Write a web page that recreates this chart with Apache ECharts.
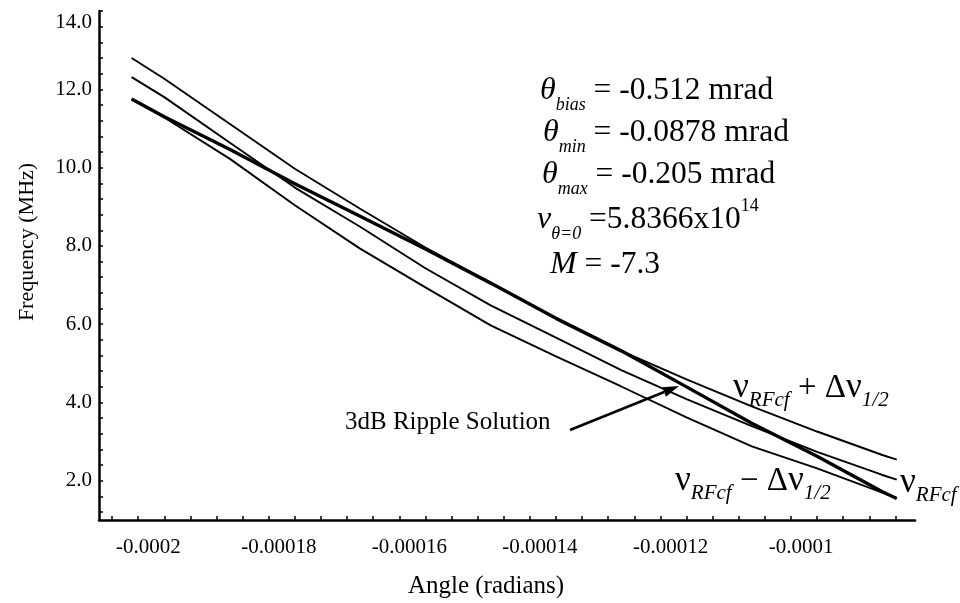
<!DOCTYPE html>
<html><head><meta charset="utf-8">
<script src="https://cdn.jsdelivr.net/npm/echarts@6/dist/echarts.min.js"></script>
<style>html,body{margin:0;padding:0;background:#fff}#c{width:960px;height:603px}</style>
</head><body><div id="c"></div>
<script>
// ---- data ----
const angles      = [-0.000205, -0.0002, -0.00019, -0.00018, -0.00017, -0.00016, -0.00015, -0.00014, -0.00013, -0.00012, -0.00011, -0.0001, -0.00009, -0.0000878];
const upperFreq   = [12.80, 12.27, 11.12, 9.97, 8.95, 7.96, 7.05, 6.15, 5.32, 4.59, 3.90, 3.26, 2.66, 2.54];
const centerFreq  = [12.31, 11.80, 10.64, 9.49, 8.49, 7.43, 6.48, 5.66, 4.83, 4.09, 3.40, 2.74, 2.15, 2.03];
const lowerFreq   = [11.75, 11.28, 10.23, 9.04, 7.93, 6.94, 5.97, 5.18, 4.41, 3.62, 2.88, 2.32, 1.70, 1.56];
const rippleFreq  = [11.75, 11.30, 10.47, 9.59, 8.76, 7.92, 7.05, 6.15, 5.32, 4.40, 3.47, 2.63, 1.72, 1.55];
const xTickLabels = [-0.0002, -0.00018, -0.00016, -0.00014, -0.00012, -0.0001];
const yTickLabels = [2, 4, 6, 8, 10, 12, 14];

const FONT = 'Liberation Serif';
const xMinor = []; for (let i = 0; i <= 30; i++) xMinor.push(-0.000208 + i * 0.000004);
const yMinor = []; for (let i = 0; i <= 32; i++) yMinor.push(+(1.2 + i * 0.4).toFixed(1));

const chart = echarts.init(document.getElementById('c'), null, {renderer: 'canvas'});

function pair(ys) { return angles.map((a, i) => [a, ys[i]]); }
function line(name, ys, w) {
  return {name, type: 'line', data: pair(ys), showSymbol: false, symbol: 'none', smooth: false,
    lineStyle: {color: '#000', width: w}, z: w > 2 ? 3 : 2, animation: false};
}

const rich = {
  g:   {fontFamily: FONT, fontStyle: 'italic', fontSize: 32, lineHeight: 46, color: '#000'},
  s:   {fontFamily: FONT, fontStyle: 'italic', fontSize: 18, verticalAlign: 'bottom', color: '#000'},
  n:   {fontFamily: FONT, fontSize: 31.5, color: '#000'},
  sup: {fontFamily: FONT, fontSize: 18, verticalAlign: 'top', color: '#000'},
  nu:  {fontFamily: FONT, fontSize: 35, lineHeight: 46, color: '#000'},
  ls:  {fontFamily: FONT, fontStyle: 'italic', fontSize: 21, verticalAlign: 'bottom', color: '#000'},
  ln:  {fontFamily: FONT, fontSize: 33, color: '#000'}
};

function txt(x, y, text) {
  return {type: 'text', x, y, silent: true,
    style: {text, rich, align: 'left', verticalAlign: 'middle', fill: '#000'}};
}

// arrow annotation
const a0 = [570, 430], a1 = [679, 386];
const dx = a1[0] - a0[0], dy = a1[1] - a0[1], L = Math.hypot(dx, dy);
const ux = dx / L, uy = dy / L, px = -uy, py = ux;
const hb = [a1[0] - 16 * ux, a1[1] - 16 * uy];

chart.setOption({
  animation: false,
  backgroundColor: '#fff',
  grid: {left: 99, top: 11, right: 45, bottom: 83, containLabel: false},
  xAxis: {
    type: 'value', min: -0.00021, max: -0.000085,
    axisLine: {show: true, onZero: false, lineStyle: {color: '#000', width: 2.5}},
    axisTick: {show: true, inside: true, length: 4, customValues: xMinor, lineStyle: {color: '#000', width: 1.5}},
    axisLabel: {customValues: xTickLabels, formatter: v => String(v), fontFamily: FONT, fontSize: 21, color: '#000', margin: 17, padding: [0, 32, 0, 0]},
    splitLine: {show: false}
  },
  yAxis: {
    type: 'value', min: 1, max: 14,
    axisLine: {show: true, onZero: false, lineStyle: {color: '#000', width: 2.5}},
    axisTick: {show: true, inside: true, length: 4, customValues: yMinor, lineStyle: {color: '#000', width: 1.5}},
    axisLabel: {customValues: yTickLabels, margin: 7,
      formatter: v => v === 14 ? '{top|14.0}' : v.toFixed(1),
      fontFamily: FONT, fontSize: 21, color: '#000',
      rich: {top: {fontFamily: FONT, fontSize: 21, color: '#000', padding: [22, 0, 0, 0]}}},
    splitLine: {show: false}
  },
  series: [
    line('upper', upperFreq, 1.9),
    line('center', centerFreq, 1.9),
    line('lower', lowerFreq, 1.9),
    line('ripple', rippleFreq, 3.4)
  ],
  graphic: [
    {type: 'text', x: 486, y: 586, silent: true,
      style: {text: 'Angle (radians)', fontFamily: FONT, fontSize: 25, fill: '#000', align: 'center', verticalAlign: 'middle'}},
    {type: 'text', x: 27, y: 242, rotation: Math.PI / 2, silent: true,
      style: {text: 'Frequency (MHz)', fontFamily: FONT, fontSize: 22, fill: '#000', align: 'center', verticalAlign: 'middle'}},
    txt(540, 91, '{g|θ}{s|bias}{n| = -0.512 mrad}'),
    txt(543, 133, '{g|θ}{s|min}{n| = -0.0878 mrad}'),
    txt(542, 175, '{g|θ}{s|max}{n| = -0.205 mrad}'),
    txt(537, 220, '{g|ν}{s|θ=0}{n| =5.8366x10}{sup|14}'),
    txt(550, 265, '{g|M}{n| = -7.3}'),
    txt(733, 388, '{nu|ν}{ls|RFcf}{ln| + Δ}{nu|ν}{ls|1/2}'),
    txt(675, 481, '{nu|ν}{ls|RFcf}{ln| − Δ}{nu|ν}{ls|1/2}'),
    txt(900, 483, '{nu|ν}{ls|RFcf}'),
    {type: 'text', x: 345, y: 422, silent: true,
      style: {text: '3dB Ripple Solution', fontFamily: FONT, fontSize: 25, fill: '#000', align: 'left', verticalAlign: 'middle'}},
    {type: 'line', silent: true, shape: {x1: a0[0], y1: a0[1], x2: hb[0], y2: hb[1]}, style: {stroke: '#000', lineWidth: 2.5}},
    {type: 'polygon', silent: true, shape: {points: [a1, [hb[0] + 5 * px, hb[1] + 5 * py], [hb[0] - 5 * px, hb[1] - 5 * py]]}, style: {fill: '#000'}}
  ]
});
</script>
</body></html>
